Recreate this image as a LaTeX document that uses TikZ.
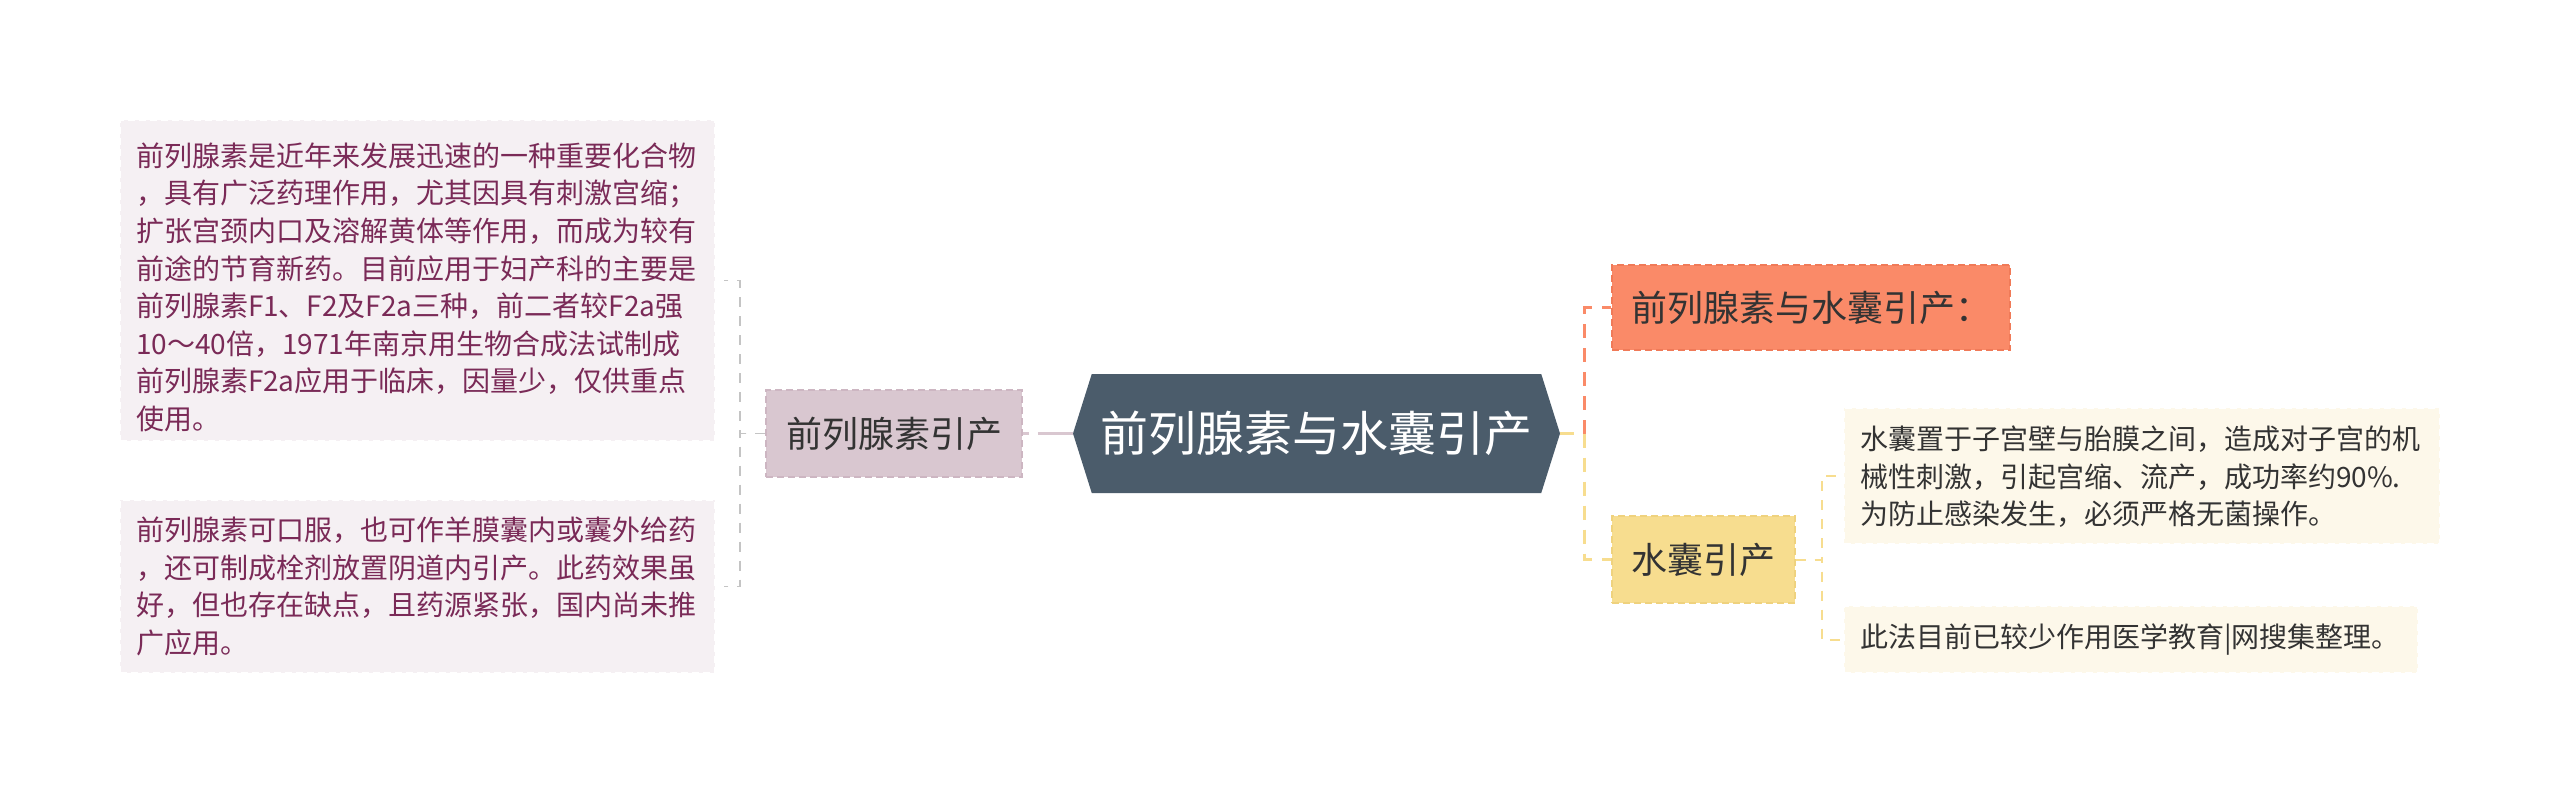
\documentclass[tikz,border=0pt]{standalone}
\usepackage{fontspec}
\setmainfont{Noto Sans CJK SC}
\usetikzlibrary{shapes.symbols}
\definecolor{leaffill}{HTML}{F5F0F3}
\definecolor{leaftext}{HTML}{7A2A57}
\definecolor{pinkfill}{HTML}{D9C7D0}
\definecolor{pinkedge}{HTML}{CDB6C2}
\definecolor{rootfill}{HTML}{4B5C6B}
\definecolor{orangefill}{HTML}{FA8A68}
\definecolor{orangeedge}{HTML}{F07A58}
\definecolor{yellowfill}{HTML}{F7DD8F}
\definecolor{yellowedge}{HTML}{EFD27E}
\definecolor{creamfill}{HTML}{FDF8EA}
\definecolor{greyline}{HTML}{C4C4C4}
\definecolor{inktext}{HTML}{333333}
\begin{document}
\begin{tikzpicture}[x=1pt,y=-1pt,
    rootbox/.style={signal,signal to=west and east,signal pointer angle=145,fill=rootfill,text=white,
      font=\fontsize{48}{58}\selectfont,minimum width=487pt,minimum height=119pt,inner sep=0pt},
    topicbox/.style={draw,line width=1.5pt,dash pattern=on 7pt off 4pt,text=inktext,
      font=\fontsize{36}{44}\selectfont,inner sep=0pt},
    leafbox/.style={draw=white,line width=1.2pt,dash pattern=on 7pt off 4pt,align=left,inner xsep=16pt,
      font=\fontsize{28}{37.6}\selectfont},
    firstline/.style={execute at begin node={\rule{0pt}{#1}}},
    leftleaf/.style={leafbox,fill=leaffill,text=leaftext,text width=563pt},
    rightleaf/.style={leafbox,fill=creamfill,text=inktext},
    greydash/.style={draw=greyline,line width=1.8pt,dash pattern=on 10pt off 9pt},
    pinkline/.style={draw=pinkfill,line width=3pt,dash pattern=on 6pt off 9pt on 36pt off 0pt},
    orangeline/.style={draw=orangefill,line width=3pt,dash pattern=on 14pt off 10pt},
    yellowline/.style={draw=yellowfill,line width=3pt,dash pattern=on 14pt off 10pt},
    yellowdash/.style={draw=yellowfill,line width=2pt,dash pattern=on 10pt off 9pt}]
  \useasboundingbox[fill=white] (0,0) rectangle (2560,795);
  \node[rootbox] (root) at (1316.5,433.5) {前列腺素与水囊引产};
  \node[topicbox,fill=pinkfill,draw=pinkedge,minimum width=256pt,minimum height=87pt] (pgind) at (894,433.5) {前列腺素引产};
  \node[leftleaf,firstline=37pt,minimum height=321pt] (pgtext) at (417.5,280.5) {前列腺素是近年来发展迅速的一种重要化合物\\，具有广泛药理作用，尤其因具有刺激宫缩；\\扩张宫颈内口及溶解黄体等作用，而成为较有\\前途的节育新药。目前应用于妇产科的主要是\\前列腺素F1、F2及F2a三种，前二者较F2a强\\10～40倍，1971年南京用生物合成法试制成\\前列腺素F2a应用于临床，因量少，仅供重点\\使用。};
  \node[leftleaf,firstline=21pt,minimum height=173pt] (pgoral) at (417.5,586.5) {前列腺素可口服，也可作羊膜囊内或囊外给药\\，还可制成栓剂放置阴道内引产。此药效果虽\\好，但也存在缺点，且药源紧张，国内尚未推\\广应用。};
  \node[topicbox,fill=orangefill,draw=orangeedge,minimum width=398pt,minimum height=85pt] (both) at (1811,307.5) {前列腺素与水囊引产：};
  \node[topicbox,fill=yellowfill,draw=yellowedge,minimum width=183pt,minimum height=87pt] (bagind) at (1703.5,559.5) {水囊引产};
  \node[rightleaf,firstline=25pt,text width=564pt,minimum height=136pt] (bagtext) at (2142,476) {水囊置于子宫壁与胎膜之间，造成对子宫的机\\械性刺激，引起宫缩、流产，成功率约90\%.\\为防止感染发生，必须严格无菌操作。};
  \node[rightleaf,text width=542pt,minimum height=67pt] (bagnote) at (2131,639.5) {此法目前已较少作用医学教育|网搜集整理。};
  \draw[pinkline] (pgind.east) -- (root.west);
  \draw[greydash] (pgind.west) -- ++(-25,0) |- ([xshift=8pt]pgtext.east);
  \draw[greydash] (pgind.west) -- ++(-25,0) |- ([xshift=8pt]pgoral.east);
  \draw[orangeline] ([xshift=24pt]root.east) |- (both.west);
  \draw[yellowline] (root.east) -- ++(24,0) |- (bagind.west);
  \draw[yellowdash] (bagind.east) -- ++(26,0) |- (bagtext.west);
  \draw[yellowdash] (bagind.east) -- ++(26,0) |- (bagnote.west);
\end{tikzpicture}
\end{document}
